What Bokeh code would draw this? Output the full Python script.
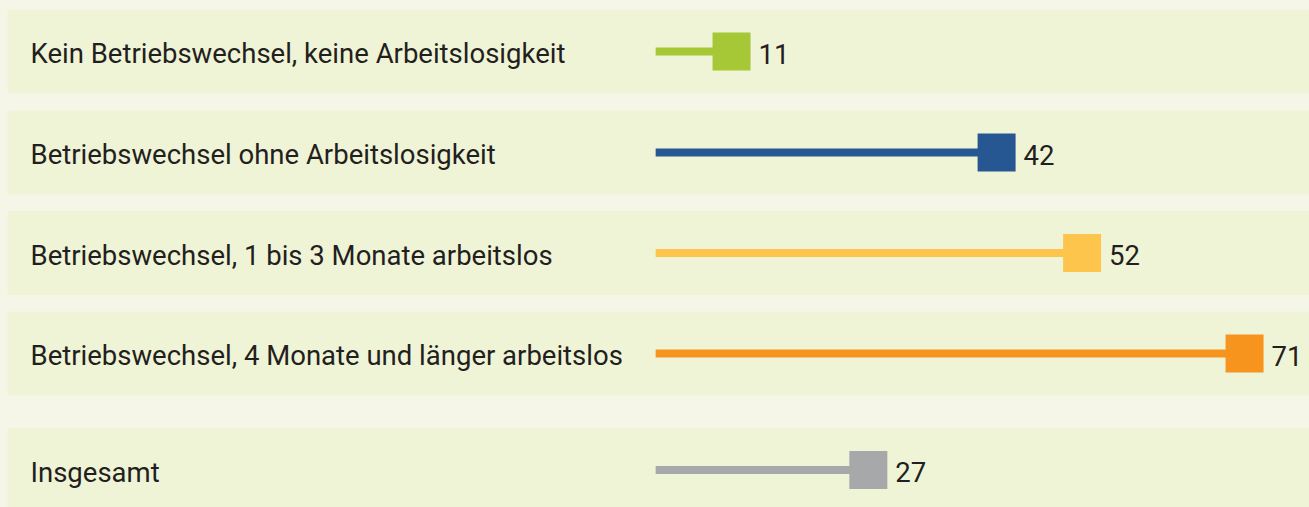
from bokeh.plotting import figure
from bokeh.models import Range1d, ColumnDataSource
from bokeh.core.properties import value
from bokeh.embed import file_html
from bokeh.resources import INLINE

categories = [
    "Kein Betriebswechsel, keine Arbeitslosigkeit",
    "Betriebswechsel ohne Arbeitslosigkeit",
    "Betriebswechsel, 1 bis 3 Monate arbeitslos",
    "Betriebswechsel, 4 Monate und länger arbeitslos",
    "Insgesamt",
]
values = [11, 42, 52, 71, 27]
colors = ["#a6c837", "#275792", "#fec54d", "#f7941e", "#a7a8aa"]

OUTER = "#f5f6e8"
BAND = "#f0f4d6"
TEXT = "#231f20"

W, H = 1309, 507
PX = 8.55            # pixels per value unit
ZERO_PX = 656        # frame x of value 0
x_start = -ZERO_PX / PX
x_end = x_start + W / PX

# y in pixel coordinates from top
row_centers = [51, 152, 252.5, 353, 469.5]
band_half = 42
sq = 38

p = figure(width=W, height=H, output_backend="svg", toolbar_location=None,
           x_range=Range1d(x_start, x_end), y_range=Range1d(H, 0),
           min_border=0, border_fill_color=OUTER, background_fill_color=OUTER,
           outline_line_color=None)
p.axis.visible = False
p.grid.visible = False

sq_w = sq / PX
band = ColumnDataSource(dict(
    left=[x_start + 7 / PX] * len(values),
    right=[x_end + 1] * len(values),
    top=[c - band_half for c in row_centers],
    bottom=[c + band_half for c in row_centers],
))
p.quad(left="left", right="right", top="top", bottom="bottom", source=band,
       fill_color=BAND, line_color=None)

src = ColumnDataSource(dict(
    x0=[-0.1] * len(values),
    x1=[v - sq_w / 2 for v in values],
    y=row_centers,
    ty=[c + 2 for c in row_centers],
    left=[v - sq_w for v in values],
    right=values,
    top=[c - sq / 2 for c in row_centers],
    bottom=[c + sq / 2 for c in row_centers],
    color=colors,
    label=categories,
    lx=[x_start + 30 / PX] * len(values),
    vx=[v + 8 / PX for v in values],
    vtxt=[str(v) for v in values],
))
p.segment(x0="x0", y0="y", x1="x1", y1="y", source=src, line_color="color",
          line_width=8, line_cap="butt")
p.quad(left="left", right="right", top="top", bottom="bottom", source=src,
       fill_color="color", line_color=None)
p.text(x="lx", y="ty", text="label", source=src, text_font=value("Roboto"),
       text_font_size="27.5px", text_color=TEXT, text_baseline="middle",
       text_align="left")
p.text(x="vx", y="ty", text="vtxt", source=src, text_font=value("Roboto"),
       text_font_size="27.5px", text_color=TEXT, text_baseline="middle",
       text_align="left")

html = file_html(p, INLINE)
html = html.replace("</head>", "<style>html,body{margin:0;padding:0;overflow:hidden;background-color:%s;}</style></head>" % OUTER, 1)
open("out.html", "w").write(html)
